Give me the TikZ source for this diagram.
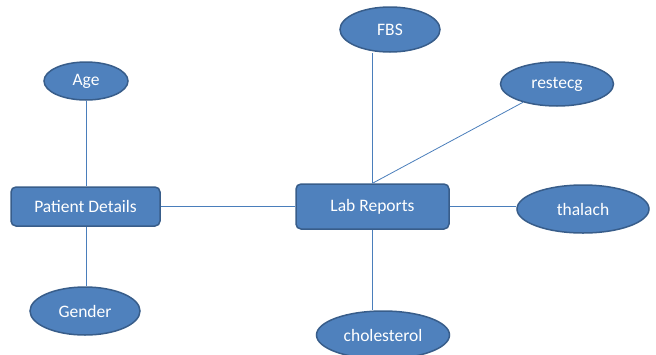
\documentclass[tikz,border=0pt]{standalone}
\usepackage{fontspec}
\setmainfont{Carlito}
\usetikzlibrary{shapes.geometric}
\definecolor{boxfill}{HTML}{4F81BD}
\definecolor{boxline}{HTML}{385D8A}
\definecolor{conn}{HTML}{4A7EBB}
\tikzset{
  rbox/.style={draw=boxline, fill=boxfill, line width=1.5pt, rounded corners=5pt,
    text=white, font=\fontsize{17.5}{20}\selectfont, minimum height=#1, inner sep=0pt},
  oval/.style={ellipse, draw=boxline, fill=boxfill, line width=1.5pt,
    text=white, font=\fontsize{17.5}{20}\selectfont, inner sep=0pt},
  link/.style={draw=conn, line width=0.8pt}
}
\begin{document}
\begin{tikzpicture}[x=1pt,y=-1pt]
\useasboundingbox (0,0) rectangle (656,354);
\node[rbox=39pt, minimum width=149pt] (pd) at (85.5,206.5) {Patient Details};
\node[rbox=45pt, minimum width=153pt] (lab) at (372.5,206.5) {Lab Reports};
\node[oval, minimum width=84pt, minimum height=38pt] (age) at (86,81) {Age};
\node[oval, minimum width=110pt, minimum height=48pt] (gender) at (85,311) {Gender};
\node[oval, minimum width=100pt, minimum height=45pt] (fbs) at (390,29.5) {FBS};
\node[oval, minimum width=113pt, minimum height=44pt] (restecg) at (557,84) {restecg};
\node[oval, minimum width=132pt, minimum height=48pt] (thalach) at (583,209) {thalach};
\node[oval, minimum width=133pt, minimum height=48pt] (chol) at (383,335) {cholesterol};
\draw[link] (age.south) -- (age.south |- pd.north);
\draw[link] (pd.south -| age.south) -- (gender.north -| age.south);
\draw[link] (pd.east) -- (lab.west);
\draw[link] (lab.north) -- (lab.north |- fbs.south);
\draw[link] (lab.north) -- (restecg);
\draw[link] (lab.east) -- (lab.east -| thalach.west);
\draw[link] (lab.south) -- (lab.south |- chol.north);
\end{tikzpicture}
\end{document}
